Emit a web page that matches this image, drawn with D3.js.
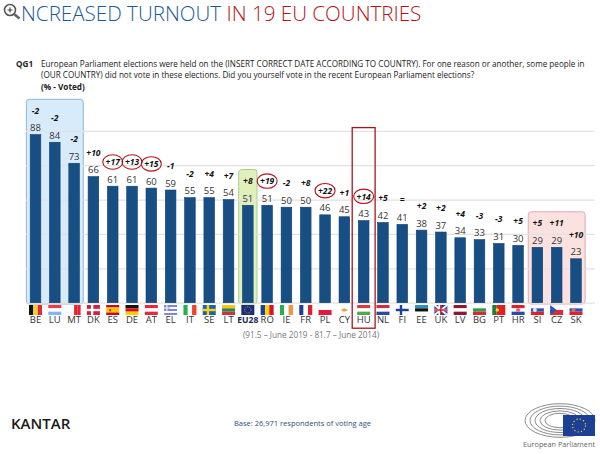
<!DOCTYPE html>
<html>
<head>
<meta charset="utf-8">
<script src="https://cdn.jsdelivr.net/npm/d3@7"></script>
<style>
  html, body { margin: 0; padding: 0; background: #fff; }
  svg { display: block; }
  text { font-family: "Open Sans", sans-serif; }
</style>
</head>
<body>
<div id="chart"></div>
<script>
const countries = ["BE","LU","MT","DK","ES","DE","AT","EL","IT","SE","LT","EU28","RO","IE","FR","PL","CY","HU","NL","FI","EE","UK","LV","BG","PT","HR","SI","CZ","SK"];
const voted = [88,84,73,66,61,61,60,59,55,55,54,51,51,50,50,46,45,43,42,41,38,37,34,33,31,30,29,29,23];
const change = ["-2","-2","-2","+10","+17","+13","+15","-1","-2","+4","+7","+8","+19","-2","+8","+22","+1","+14","+5","=","+2","+2","+4","-3","-3","+5","+5","+11","+10"];
const circled = ["ES","DE","AT","RO","PL","HU"];
const gridTicks = [0,18,36,54,72,90];

// flag stripes: v = vertical, h = horizontal
const flagDirs = ["v","h","v","h","h","h","h","h","v","h","h","h","v","v","v","h","h","h","h","h","h","h","h","h","v","h","h","h","h"];
const flagColors = [
  ["#111","#f6d21e","#e5283a"],["#ee3c44","#fff","#7fb8f2"],["#fff","#fff","#ee1c2e","#ee1c2e"],["#d21f3c"],
  ["#c60b1e","#ffc400","#ffc400","#c60b1e"],["#111","#d80f1a","#ffce00"],["#e8293a","#fff","#e8293a"],["#7f88d4","#fff","#7f88d4","#fff","#7f88d4"],
  ["#22b14c","#fff","#ef4028"],["#1b62ad"],["#fdc70c","#2b8a4a","#d1323a"],["#1d2b7b"],
  ["#1b3f9c","#ffd400","#d8142a"],["#22b14c","#fff","#f7923a"],["#1d3fa0","#fff","#e0202c"],["#fff","#e4173c"],["#fff"],
  ["#d93a3a","#fff","#4fa94d"],["#d8283a","#fff","#2a4aa8"],["#fff"],["#2a8fc4","#111","#fff"],["#2b3f8c"],
  ["#8a1c2e","#fff","#8a1c2e"],["#fff","#2ea043","#d8283a"],["#1f7a36","#e0201c","#e0201c"],["#e0202c","#fff","#2a4aa8"],
  ["#fff","#2458b8","#e0202c"],["#fff","#e0283a"],["#fff","#2458b8","#e0202c"]
];
const flagCrosses = { DK: "#fff", SE: "#fcd116", FI: "#1d3f9c", UK: "#fff" };

const width = 600, height = 454;
const svg = d3.select("#chart").append("svg").attr("width", width).attr("height", height);

// title
svg.append("circle").attr("cx", 10).attr("cy", 10).attr("r", 5.5)
  .attr("fill", "#fff").attr("stroke", "#555").attr("stroke-width", 1.6);
svg.append("path").attr("d", "M7.5 10H12.5M10 7.5V12.5").attr("stroke", "#444").attr("stroke-width", 1.2);
svg.append("line").attr("x1", 14).attr("y1", 14).attr("x2", 19.5).attr("y2", 18.5)
  .attr("stroke", "#666").attr("stroke-width", 2.6);
const title = svg.append("text").attr("x", 21).attr("y", 21)
  .style("font-size", "20.6px").style("font-weight", 300);
title.append("tspan").attr("fill", "#1c5a96").text("NCREASED TURNOUT ");
title.append("tspan").attr("fill", "#b5121b").text("IN 19 EU COUNTRIES");

// question
svg.append("text").attr("x", 16).attr("y", 67).style("font-size", "8.2px").style("font-weight", 700).attr("fill", "#222").text("QG1");
svg.append("text").attr("x", 41).attr("y", 67).style("font-size", "8.15px").attr("fill", "#222")
  .text("European Parliament elections were held on the (INSERT CORRECT DATE ACCORDING TO COUNTRY). For one reason or another, some people in");
svg.append("text").attr("x", 41).attr("y", 77.5).style("font-size", "8.15px").attr("fill", "#222")
  .text("(OUR COUNTRY) did not vote in these elections. Did you yourself vote in the recent European Parliament elections?");
svg.append("text").attr("x", 41).attr("y", 90).style("font-size", "8.2px").style("font-weight", 700).attr("fill", "#222").text("(% - Voted)");

// scales
const x = d3.scaleBand().domain(countries).range([25.85, 585.65]).paddingInner(0.45).paddingOuter(0.225);
const y = d3.scaleLinear().domain([0, 90]).range([302.7, 130.8]);
const cx = c => x(c) + x.bandwidth() / 2;

// highlight panels
function panel(first, last, top, fill, stroke) {
  const pad = (x.step() - x.bandwidth()) / 2 - 0.5;
  svg.append("rect")
    .attr("x", x(first) - pad)
    .attr("y", top)
    .attr("width", x(last) + x.bandwidth() + pad - (x(first) - pad))
    .attr("height", y(0) + 1.3 - top)
    .attr("rx", 3)
    .attr("fill", fill).attr("stroke", stroke).attr("stroke-width", 1);
}
panel("BE", "MT", 99.3, "#d7ebfa", "#8fb6d0");
panel("EU28", "EU28", 169.5, "#e0f0bd", "#a9cc90");
panel("SI", "SK", 211.8, "#fbe1e0", "#e4a8ae");

// gridlines
const grid = svg.append("g").attr("transform", "translate(595,0)")
  .call(d3.axisLeft(y).tickValues(gridTicks).tickSize(569).tickFormat(""));
grid.select(".domain").remove();
grid.selectAll("line").attr("stroke", "#e2e2e2").attr("stroke-width", 1.2);

// bars
svg.selectAll(".bar").data(countries).enter().append("rect")
  .attr("class", "bar")
  .attr("x", d => x(d))
  .attr("y", (d, i) => y(voted[i]))
  .attr("width", x.bandwidth())
  .attr("height", (d, i) => y(0) - y(voted[i]))
  .attr("fill", "#174f85")
  .attr("stroke", "#0f3f70").attr("stroke-width", 0.6);

// value labels
svg.selectAll(".val").data(countries).enter().append("text")
  .attr("class", "val")
  .attr("x", cx)
  .attr("y", (d, i) => y(voted[i]) - 3.5)
  .attr("text-anchor", "middle")
  .attr("fill", "#333")
  .style("font-size", "9.5px")
  .text((d, i) => voted[i]);

// change labels
svg.selectAll(".chg").data(countries).enter().append("text")
  .attr("class", "chg")
  .attr("x", cx)
  .attr("y", (d, i) => y(voted[i]) - 21)
  .attr("text-anchor", "middle")
  .attr("fill", "#111")
  .style("font-size", "8.5px").style("font-weight", 700).style("font-style", "italic")
  .text((d, i) => change[i]);

// red rings around the big rises
svg.selectAll(".ring").data(circled).enter().append("ellipse")
  .attr("class", "ring")
  .attr("cx", cx)
  .attr("cy", d => y(voted[countries.indexOf(d)]) - 24.2)
  .attr("rx", 10).attr("ry", 7.2)
  .attr("fill", "none").attr("stroke", "#b5121b").attr("stroke-width", 1.1);

// flags
const flagW = 13, flagH = 10, flagTop = 305;
countries.forEach((c, i) => {
  const g = svg.append("g").attr("transform", `translate(${cx(c) - flagW / 2},${flagTop})`);
  const cols = flagColors[i];
  const sx = d3.scaleBand().domain(d3.range(cols.length)).range([0, flagDirs[i] === "v" ? flagW : flagH]);
  g.selectAll("rect").data(cols).enter().append("rect")
    .attr("x", (d, k) => flagDirs[i] === "v" ? sx(k) : 0)
    .attr("y", (d, k) => flagDirs[i] === "v" ? 0 : sx(k))
    .attr("width", flagDirs[i] === "v" ? sx.bandwidth() : flagW)
    .attr("height", flagDirs[i] === "v" ? flagH : sx.bandwidth())
    .attr("fill", d => d);
  if (flagCrosses[c]) {
    g.append("rect").attr("x", 4).attr("y", 0).attr("width", 2.4).attr("height", flagH).attr("fill", flagCrosses[c]);
    g.append("rect").attr("x", 0).attr("y", 3.8).attr("width", flagW).attr("height", 2.4).attr("fill", flagCrosses[c]);
  }
  if (c === "UK") {
    g.append("path").attr("d", `M0 0L${flagW} ${flagH}M${flagW} 0L0 ${flagH}`).attr("stroke", "#fff").attr("stroke-width", 1.6);
    g.append("rect").attr("x", 5.6).attr("y", 0).attr("width", 1.6).attr("height", flagH).attr("fill", "#d8283a");
    g.append("rect").attr("x", 0).attr("y", 4.2).attr("width", flagW).attr("height", 1.6).attr("fill", "#d8283a");
  }
  if (c === "EU28") {
    g.append("circle").attr("cx", flagW / 2).attr("cy", flagH / 2).attr("r", 3.2).attr("fill", "none").attr("stroke", "#e6d23a").attr("stroke-width", 0.7).attr("stroke-dasharray", "1 1");
  }
  if (c === "EL") {
    g.append("rect").attr("width", 5.5).attr("height", 6).attr("fill", "#7f88d4");
    g.append("path").attr("d", "M2.75 0V6M0 3H5.5").attr("stroke", "#fff").attr("stroke-width", 1);
  }
  if (c === "CY") {
    g.append("ellipse").attr("cx", flagW / 2).attr("cy", flagH / 2).attr("rx", 2.8).attr("ry", 1.6).attr("fill", "#e9a13b");
  }
  if (c === "CZ") {
    g.append("path").attr("d", `M0 0L6.5 ${flagH / 2}L0 ${flagH}Z`).attr("fill", "#2458b8");
  }
  if (c === "ES") {
    g.append("rect").attr("x", 3).attr("y", 4).attr("width", 2).attr("height", 2.4).attr("fill", "#b5451b");
  }
  if (c === "PT") {
    g.append("circle").attr("cx", 5).attr("cy", flagH / 2).attr("r", 1.8).attr("fill", "#f2d23a");
  }
  if (c === "SI" || c === "SK" || c === "HR") {
    g.append("circle").attr("cx", c === "HR" ? flagW / 2 : 4).attr("cy", flagH / 2).attr("r", 2).attr("fill", c === "SI" ? "#e8eef8" : "#e8686a");
  }
});

// country labels
const axis = svg.append("g").attr("transform", `translate(0,${y(0)})`)
  .call(d3.axisBottom(x).tickSize(0).tickPadding(14));
axis.select(".domain").remove();
axis.selectAll("text")
  .style("font-size", d => d === "EU28" ? "8.6px" : "9.5px").style("font-family", "'Open Sans', sans-serif")
  .style("font-weight", d => d === "EU28" ? 700 : 400)
  .attr("fill", d => d === "EU28" ? "#1d2b5c" : "#333");

// Hungary marker, on top of everything
const huPad = (x.step() - x.bandwidth()) / 2 + 1.8;
svg.append("rect")
  .attr("x", x("HU") - huPad)
  .attr("y", 127.6)
  .attr("width", x.bandwidth() + huPad * 2)
  .attr("height", 200.6)
  .attr("fill", "none").attr("stroke", "#a9151c").attr("stroke-width", 1.3);

svg.append("text").attr("x", 311).attr("y", 337.5).attr("text-anchor", "middle")
  .style("font-size", "8.2px").attr("fill", "#777")
  .text("(91.5 – June 2019 - 81.7 – June 2014)");

// footer
svg.append("text").attr("x", 11).attr("y", 428.5).style("font-size", "15px").style("font-weight", 600)
  .attr("fill", "#1a1a1a").text("KANTAR");
svg.append("text").attr("x", 234).attr("y", 426).style("font-size", "7.5px").attr("fill", "#2b4f80")
  .text("Base: 26,971 respondents of voting age");

// parliament logo
const logo = svg.append("g");
[35, 30, 25, 20, 15].forEach(r => {
  logo.append("ellipse")
    .attr("cx", 560).attr("cy", 420.5).attr("rx", r).attr("ry", r * 0.48)
    .attr("fill", "none").attr("stroke", "#8c8c8c").attr("stroke-width", 1);
});
logo.append("rect").attr("x", 563).attr("y", 415).attr("width", 32).attr("height", 21).attr("fill", "#1d3f94");
logo.append("circle").attr("cx", 579).attr("cy", 425.5).attr("r", 6.5).attr("fill", "none")
  .attr("stroke", "#f2d23a").attr("stroke-width", 1.2).attr("stroke-dasharray", "1.2 2.2");
svg.append("text").attr("x", 523).attr("y", 447).style("font-size", "7.3px")
  .attr("fill", "#666").text("European Parliament");
</script>
</body>
</html>
